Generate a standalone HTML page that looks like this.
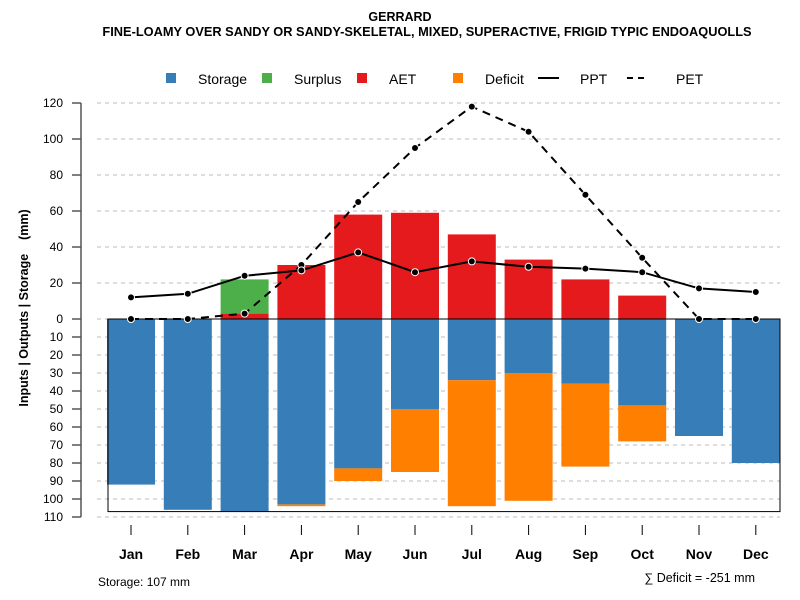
<!DOCTYPE html>
<html><head><meta charset="utf-8"><style>
body{margin:0;background:#fff}
svg{display:block;font-family:"Liberation Sans",Arial,sans-serif}
</style></head><body>
<svg id="c" width="800" height="600" xmlns="http://www.w3.org/2000/svg">
<text x="400" y="21" text-anchor="middle" font-size="12.5" font-weight="bold">GERRARD</text>
<text x="427" y="36" text-anchor="middle" font-size="12.8" font-weight="bold">FINE-LOAMY OVER SANDY OR SANDY-SKELETAL, MIXED, SUPERACTIVE, FRIGID TYPIC ENDOAQUOLLS</text>
<g font-size="14">
<g><rect x="166" y="73" width="10" height="10" fill="#377eb8"/><text x="198" y="84">Storage</text></g>
<g><rect x="262" y="73" width="10" height="10" fill="#4daf4a"/><text x="294" y="84">Surplus</text></g>
<g><rect x="357" y="73" width="10" height="10" fill="#e41a1c"/><text x="389" y="84">AET</text></g>
<g><rect x="453" y="73" width="10" height="10" fill="#ff7f00"/><text x="485" y="84">Deficit</text></g>
<g><line x1="538" y1="78" x2="559" y2="78" stroke="#000" stroke-width="2"/><text x="580" y="84">PPT</text></g>
<g><line x1="627" y1="78" x2="646" y2="78" stroke="#000" stroke-width="2" stroke-dasharray="6,5"/><text x="676" y="84">PET</text></g>
</g>
<text transform="translate(28,308) rotate(-90)" text-anchor="middle" font-size="12.5" font-weight="bold" xml:space="preserve">Inputs | Outputs | Storage    (mm)</text>
<g id="plot"></g>
<text x="98" y="586" font-size="12">Storage: 107 mm</text>
<text x="755" y="582" text-anchor="end" font-size="12.5">∑ Deficit = -251 mm</text>
</svg>
<script>
const months=["Jan","Feb","Mar","Apr","May","Jun","Jul","Aug","Sep","Oct","Nov","Dec"];
const storage=[92,106,107,103,83,50,34,30,36,48,65,80];
const deficit=[0,0,0,1,7,35,70,71,46,20,0,0];
const aet=[0,0,3,30,58,59,47,33,22,13,0,0];
const surplus=[0,0,19,0,0,0,0,0,0,0,0,0];
const ppt=[12,14,24,27,37,26,32,29,28,26,17,15];
const pet=[0,0,3,30,65,95,118,104,69,34,0,0];
const upTicks=[0,20,40,60,80,100,120];
const downTicks=[10,20,30,40,50,60,70,80,90,100,110];
const maxStorage=107;

const NS="http://www.w3.org/2000/svg";
const g=document.getElementById('plot');
const y=v=>319-v*1.8;
const x=i=>131+i*56.8;
const bw=48;
function mk(t,a){const e=document.createElementNS(NS,t);for(const k in a)e.setAttribute(k,a[k]);g.appendChild(e);return e;}
upTicks.forEach(v=>{
 const l=mk('line',{x1:97,x2:780,y1:y(v),y2:y(v),stroke:'#bbb','stroke-dasharray':'4,4'});
 
 
 const t=mk('line',{x1:72,x2:81,y1:y(v),y2:y(v),stroke:'#000'});
 
 
 const tx=mk('text',{x:63,y:y(v)+4,'text-anchor':'end','font-size':12});tx.textContent=v;
 
 
});
downTicks.forEach(v=>{
 const l=mk('line',{x1:97,x2:780,y1:y(-v),y2:y(-v),stroke:'#bbb','stroke-dasharray':'4,4'});
 
 
 const t=mk('line',{x1:72,x2:81,y1:y(-v),y2:y(-v),stroke:'#000'});
 
 
 const tx=mk('text',{x:63,y:y(-v)+4,'text-anchor':'end','font-size':12});tx.textContent=v;
 
 
});
const ax=mk('line',{x1:81,x2:81,y1:y(120),y2:y(-110),stroke:'#555','stroke-width':1.5});


function bar(i,v0,v1,col,name){
 const r=mk('rect',{x:x(i)-bw/2,y:y(Math.max(v0,v1)),width:bw,height:Math.abs(v1-v0)*1.8,fill:col});
 
 
}
months.forEach((m,i)=>{
 bar(i,0,-storage[i],'#377eb8','bar-storage-'+m.toLowerCase());
 if(deficit[i])bar(i,-storage[i],-storage[i]-deficit[i],'#ff7f00','bar-deficit-'+m.toLowerCase());
 if(aet[i])bar(i,0,aet[i],'#e41a1c','bar-aet-'+m.toLowerCase());
 if(surplus[i])bar(i,aet[i],aet[i]+surplus[i],'#4daf4a','bar-surplus-'+m.toLowerCase());
 const t=mk('line',{x1:x(i),x2:x(i),y1:525,y2:535,stroke:'#000'});
 
 
 const tx=mk('text',{x:x(i),y:559,'text-anchor':'middle','font-size':14,'font-weight':'bold'});tx.textContent=m;
 
 
});
const box=mk('rect',{x:108,y:319,width:672,height:maxStorage*1.8,fill:'none',stroke:'#000','stroke-width':1});


function series(arr,dash,name){
 const p=mk('polyline',{points:arr.map((v,i)=>x(i)+','+y(v)).join(' '),fill:'none',stroke:'#000','stroke-width':2,'stroke-dasharray':dash});
 
 
 arr.forEach((v,i)=>{
  const c=mk('circle',{cx:x(i),cy:y(v),r:3.5,fill:'#000',stroke:'#fff','stroke-width':1});
  
  
 });
}
series(pet,'8,6','pet');
series(ppt,'none','ppt');
</script>
</body></html>
